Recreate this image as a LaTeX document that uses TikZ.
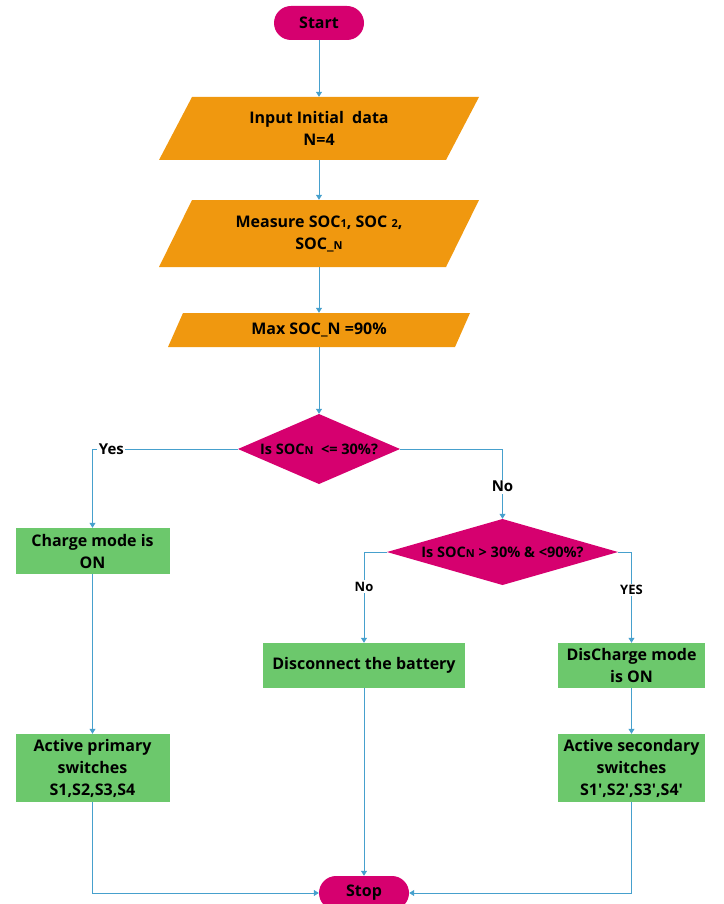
\documentclass[tikz,border=0pt]{standalone}
\usepackage{fontspec}
\setmainfont{Open Sans}
\usetikzlibrary{arrows.meta}
\definecolor{mag}{RGB}{214,0,111}
\definecolor{org}{RGB}{240,152,15}
\definecolor{grn}{RGB}{108,200,108}
\definecolor{lnk}{RGB}{70,160,205}
\newcommand{\sm}[1]{{\fontsize{11}{12}\selectfont #1}}
\newcommand{\ap}{\textquotesingle}
\tikzset{
  txt/.style={align=center, inner sep=0pt, text=black, font=\bfseries\fontsize{16}{22}\selectfont},
  term/.style={txt, fill=mag, rounded corners=17pt, minimum width=90pt, minimum height=34pt, font=\bfseries\fontsize{16}{18}\selectfont},
  gbox/.style={txt, fill=grn},
  shapenode/.style={txt},
  dtxt/.style={txt, font=\bfseries\fontsize{14.5}{16}\selectfont},
  conn/.style={draw=lnk, line width=0.8pt, -{Triangle[width=6pt,length=5pt]}},
  lbl/.style={fill=white, inner sep=1.5pt, text=black, font=\bfseries\fontsize{15}{18}\selectfont},
  slbl/.style={lbl, font=\bfseries\fontsize{13}{16}\selectfont},
}
\begin{document}
\begin{tikzpicture}[x=1pt, y=-1pt]
\useasboundingbox (0,0) rectangle (723,904);
% terminals
\node[term] (start) at (319,23) {Start};
\node[term] (stop) at (364,893) {Stop};
% parallelograms
\fill[org] (192,97) -- (479,97) -- (446,160) -- (159,160) -- cycle;
\node[shapenode, minimum width=287pt, minimum height=63pt] (input) at (319,128.5) {Input Initial\ \ data\\N=4};
\fill[org] (192,200) -- (479,200) -- (446,267) -- (159,267) -- cycle;
\node[shapenode, minimum width=287pt, minimum height=67pt] (meas) at (319,233.5) {Measure SOC\sm{1}, SOC \sm{2},\\SOC\_\sm{N}};
\fill[org] (183,313) -- (470,313) -- (455,347) -- (168,347) -- cycle;
\node[shapenode, minimum width=287pt, minimum height=34pt] (max) at (319,330) {Max SOC\_N =90\%};
% decisions
\fill[mag] (238,449) -- (319,414) -- (400,449) -- (319,484) -- cycle;
\node[dtxt, minimum width=162pt, minimum height=70pt] (d1) at (319,449) {Is SOC\sm{N}\ \ <= 30\%?};
\fill[mag] (387,552) -- (502.5,519) -- (618,552) -- (502.5,585) -- cycle;
\node[dtxt, minimum width=231pt, minimum height=66pt] (d2) at (502.5,552) {Is SOC\sm{N} > 30\% \& <90\%?};
% process boxes
\node[gbox, minimum width=154pt, minimum height=46pt] (charge) at (92.5,551) {Charge mode is\\ON};
\node[gbox, minimum width=154pt, minimum height=68pt] (prim) at (92.5,768) {Active primary\\switches\\S1,S2,S3,S4};
\node[gbox, minimum width=202pt, minimum height=45pt] (disc) at (364,665.5) {Disconnect the battery};
\node[gbox, minimum width=147pt, minimum height=45pt] (dchg) at (631.5,665.5) {DisCharge mode\\is ON};
\node[gbox, minimum width=147pt, minimum height=68pt] (sec) at (631.5,768) {Active secondary\\switches\\S1\ap,S2\ap,S3\ap,S4\ap};
% connectors
\draw[conn] (start) -- (input);
\draw[conn] (input) -- (meas);
\draw[conn] (meas) -- (max);
\draw[conn] (max) -- (d1);
\draw[conn] (d1.west) -| node[lbl, pos=0.435] {Yes} (charge.north);
\draw[conn] (d1.east) -| node[lbl, pos=0.77] {No} (d2.north);
\draw[conn] (d2.west) -| node[slbl, pos=0.69] {No} (disc.north);
\draw[conn] (d2.east) -| node[slbl, pos=0.71] {YES} (dchg.north);
\draw[conn] (charge) -- (prim);
\draw[conn] (dchg) -- (sec);
\draw[conn] (prim.south) |- (stop.west);
\draw[conn] (sec.south) |- (stop.east);
\draw[conn] (disc) -- (stop);
\end{tikzpicture}
\end{document}
